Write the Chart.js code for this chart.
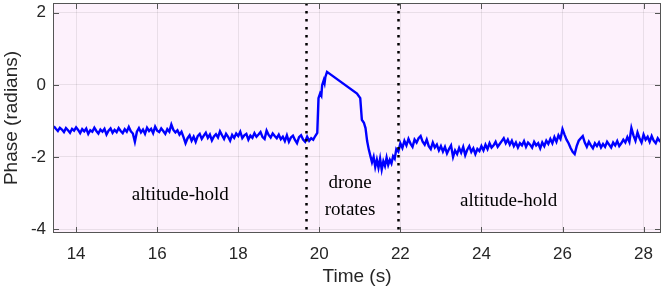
<!DOCTYPE html>
<html>
<head>
<meta charset="utf-8">
<script src="https://cdn.jsdelivr.net/npm/chart.js@4/dist/chart.umd.min.js"></script>
<style>
  html, body { margin: 0; padding: 0; background: #fff; }
  #wrap { width: 664px; height: 292px; }
</style>
</head>
<body>
<div id="wrap"><canvas id="myChart"></canvas></div>
<script>
// phase trace (seconds, radians)
var time = [
  13.45, 13.50, 13.55, 13.60, 13.65, 13.70, 13.75, 13.80, 13.85, 13.90,
  13.95, 14.00, 14.05, 14.10, 14.15, 14.20, 14.25, 14.30, 14.35, 14.40,
  14.45, 14.50, 14.55, 14.60, 14.65, 14.70, 14.75, 14.80, 14.85, 14.90,
  14.95, 15.00, 15.05, 15.10, 15.15, 15.20, 15.25, 15.30, 15.35, 15.40,
  15.45, 15.50, 15.55, 15.60, 15.65, 15.70, 15.75, 15.80, 15.85, 15.90,
  15.95, 16.00, 16.05, 16.10, 16.15, 16.20, 16.25, 16.30, 16.35, 16.40,
  16.45, 16.50, 16.55, 16.60, 16.65, 16.70, 16.75, 16.80, 16.85, 16.90,
  16.95, 17.00, 17.05, 17.10, 17.15, 17.20, 17.25, 17.30, 17.35, 17.40,
  17.45, 17.50, 17.55, 17.60, 17.65, 17.70, 17.75, 17.80, 17.85, 17.90,
  17.95, 18.00, 18.05, 18.10, 18.15, 18.20, 18.25, 18.30, 18.35, 18.40,
  18.45, 18.50, 18.55, 18.60, 18.65, 18.70, 18.75, 18.80, 18.85, 18.90,
  18.95, 19.00, 19.05, 19.10, 19.15, 19.20, 19.25, 19.30, 19.35, 19.40,
  19.45, 19.50, 19.55, 19.60, 19.65, 19.70, 19.75, 19.80, 19.85, 19.90,
  19.95, 19.98, 20.02, 20.05, 20.07, 20.11, 20.13, 20.15, 20.19, 20.93,
  21.01, 21.05, 21.10, 21.14, 21.18, 21.22, 21.26, 21.30, 21.34, 21.38,
  21.42, 21.46, 21.50, 21.54, 21.58, 21.62, 21.66, 21.70, 21.74, 21.78,
  21.82, 21.86, 21.90, 21.95,
  22.00, 22.05, 22.10, 22.15, 22.20, 22.25, 22.30, 22.35, 22.40, 22.45,
  22.50, 22.55, 22.60, 22.65, 22.70, 22.75, 22.80, 22.85, 22.90, 22.95,
  23.00, 23.05, 23.10, 23.15, 23.20, 23.25, 23.30, 23.35, 23.40, 23.45,
  23.50, 23.55, 23.60, 23.65, 23.70, 23.75, 23.80, 23.85, 23.90, 23.95,
  24.00, 24.05, 24.10, 24.15, 24.20, 24.25, 24.30, 24.35, 24.40, 24.45,
  24.50, 24.55, 24.60, 24.65, 24.70, 24.75, 24.80, 24.85, 24.90, 24.95,
  25.00, 25.05, 25.10, 25.15, 25.20, 25.25, 25.30, 25.35, 25.40, 25.45,
  25.50, 25.55, 25.60, 25.65, 25.70, 25.75, 25.80, 25.85, 25.90, 25.95,
  26.00, 26.05, 26.10, 26.15, 26.20, 26.25, 26.30, 26.35, 26.40, 26.45,
  26.50, 26.55, 26.60, 26.65, 26.70, 26.75, 26.80, 26.85, 26.90, 26.95,
  27.00, 27.05, 27.10, 27.15, 27.20, 27.25, 27.30, 27.35, 27.40, 27.45,
  27.50, 27.55, 27.60, 27.65, 27.70, 27.75, 27.80, 27.85, 27.90, 27.95,
  28.00, 28.05, 28.10, 28.15, 28.20, 28.25, 28.30, 28.35, 28.40, 28.45
];
var phase = [
  -1.15, -1.22, -1.28, -1.19, -1.24, -1.31, -1.20, -1.26, -1.33, -1.22,
  -1.27, -1.18, -1.25, -1.34, -1.23, -1.29, -1.21, -1.36, -1.26, -1.30,
  -1.19, -1.28, -1.35, -1.24, -1.30, -1.22, -1.38, -1.27, -1.21, -1.33,
  -1.25, -1.31, -1.20, -1.28, -1.34, -1.23, -1.30, -1.17, -1.29, -1.35,
  -1.58, -1.30, -1.20, -1.32, -1.24, -1.36, -1.19, -1.28, -1.22, -1.34,
  -1.16, -1.27, -1.31, -1.21, -1.28, -1.36, -1.23, -1.30, -1.10, -1.25,
  -1.32, -1.26, -1.38, -1.30, -1.45, -1.62, -1.48, -1.40, -1.55, -1.44,
  -1.58, -1.42, -1.36, -1.50, -1.41, -1.33, -1.47, -1.38, -1.54, -1.43,
  -1.37, -1.46, -1.29, -1.40, -1.50, -1.36, -1.44, -1.55, -1.39, -1.47,
  -1.35, -1.42, -1.30, -1.48, -1.40, -1.36, -1.52, -1.41, -1.47, -1.34,
  -1.44, -1.38, -1.31, -1.45, -1.50, -1.27, -1.39, -1.46, -1.35, -1.42,
  -1.48, -1.38, -1.51, -1.44, -1.56, -1.40, -1.58, -1.46, -1.41, -1.53,
  -1.62, -1.45, -1.40, -1.52, -1.58, -1.44, -1.55, -1.48, -1.52, -1.42,
  -1.33, -0.37, -0.24, -0.30, -0.01, 0.13, 0.05, 0.22, 0.36, -0.24,
  -0.37, -0.97, -1.05, -1.20, -1.56, -1.79, -1.97, -2.15, -2.00, -2.28,
  -2.08, -2.30, -2.05, -2.35, -2.12, -2.25, -2.02, -2.22, -2.08, -2.18,
  -1.98, -2.05, -1.78, -1.85,
  -1.62, -1.75, -1.55, -1.68, -1.50, -1.63, -1.72, -1.52, -1.60, -1.48,
  -1.42, -1.58, -1.66, -1.52, -1.70, -1.78, -1.60, -1.74, -1.66, -1.82,
  -1.70, -1.85, -1.72, -1.90, -1.78, -1.68, -2.00, -1.82, -1.92, -1.75,
  -1.88, -1.72, -1.95, -1.80, -1.70, -1.86, -1.76, -1.92, -1.78, -1.84,
  -1.70, -1.82, -1.66, -1.78, -1.62, -1.74, -1.68, -1.58, -1.72, -1.64,
  -1.56, -1.48, -1.62, -1.52, -1.66, -1.55, -1.70, -1.60, -1.74, -1.62,
  -1.68, -1.56, -1.72, -1.60, -1.66, -1.74, -1.58, -1.68, -1.62, -1.76,
  -1.60, -1.70, -1.55, -1.64, -1.50, -1.62, -1.45, -1.58, -1.40, -1.50,
  -1.23, -1.38, -1.52, -1.62, -1.75, -1.86, -1.92, -1.70, -1.55, -1.48,
  -1.42, -1.60, -1.72, -1.58, -1.68, -1.76, -1.62, -1.70, -1.60, -1.74,
  -1.64, -1.72, -1.58, -1.66, -1.74, -1.60, -1.68, -1.56, -1.70, -1.62,
  -1.52, -1.60, -1.45, -1.58, -1.20, -1.40, -1.55, -1.32, -1.48, -1.60,
  -1.38, -1.52, -1.44, -1.58, -1.42, -1.55, -1.62, -1.48, -1.56, -1.60
];
var eventTimes = [19.66, 21.95];
var xTicks = [14, 16, 18, 20, 22, 24, 26, 28];
var yTicks = [-4, -2, 0, 2];
var noteText = [['altitude-hold'], ['drone', 'rotates'], ['altitude-hold']];
var noteX = [16.57, 20.76, 24.67];
var noteY = [-3.07, -3.11, -3.23];

var points = time.map(function(t, i) { return { x: t, y: phase[i] }; });

var boxPlugin = {
  id: 'matlabBox',
  beforeDraw: function(chart) {
    var a = chart.chartArea, c = chart.ctx;
    c.save();
    c.fillStyle = '#fdf1fc';
    c.fillRect(a.left, a.top, a.right - a.left, a.bottom - a.top);
    c.restore();
  },
  afterDraw: function(chart) {
    var a = chart.chartArea, c = chart.ctx;
    var xs = chart.scales.x, ys = chart.scales.y;
    c.save();
    // dotted event lines
    c.strokeStyle = '#000';
    c.lineWidth = 2.5;
    c.setLineDash([2.5, 5.5]);
    eventTimes.forEach(function(t) {
      var px = Math.round(xs.getPixelForValue(t)) + 0.5;
      c.beginPath();
      c.moveTo(px, a.top);
      c.lineTo(px, a.bottom);
      c.stroke();
    });
    c.setLineDash([]);
    // box and inward ticks
    c.strokeStyle = '#555';
    c.lineWidth = 1;
    c.strokeRect(a.left + 0.5, a.top + 0.5, a.right - a.left - 1, a.bottom - a.top - 1);
    xTicks.forEach(function(v) {
      var px = Math.round(xs.getPixelForValue(v)) + 0.5;
      c.beginPath();
      c.moveTo(px, a.bottom); c.lineTo(px, a.bottom - 6);
      c.moveTo(px, a.top); c.lineTo(px, a.top + 6);
      c.stroke();
    });
    yTicks.forEach(function(v) {
      var py = Math.round(ys.getPixelForValue(v)) + 0.5;
      c.beginPath();
      c.moveTo(a.left, py); c.lineTo(a.left + 6, py);
      c.moveTo(a.right, py); c.lineTo(a.right - 6, py);
      c.stroke();
    });
    // annotations
    c.fillStyle = '#000';
    c.font = '19px "Liberation Serif", "Times New Roman", serif';
    c.textAlign = 'center';
    c.textBaseline = 'middle';
    noteText.forEach(function(lines, i) {
      var px = xs.getPixelForValue(noteX[i]);
      var py = ys.getPixelForValue(noteY[i]);
      var h = 27;
      lines.forEach(function(s, j) {
        c.fillText(s, px, py + (j - (lines.length - 1) / 2) * h);
      });
    });
    c.restore();
  }
};

var ctx = document.getElementById('myChart').getContext('2d');
var chart = new Chart(ctx, {
  type: 'line',
  data: {
    datasets: [{
      data: points,
      borderColor: '#0000ff',
      borderWidth: 2.4,
      pointRadius: 0,
      tension: 0,
      fill: false
    }]
  },
  options: {
    responsive: true,
    maintainAspectRatio: false,
    animation: false,
    events: [],
    layout: { autoPadding: false, padding: { top: 3, right: 3, left: 0, bottom: 0 } },
    plugins: { legend: { display: false }, tooltip: { enabled: false } },
    scales: {
      x: {
        type: 'linear',
        min: 13.43,
        max: 28.43,
        afterBuildTicks: function(s) { s.ticks = xTicks.map(function(v) { return { value: v }; }); },
        afterFit: function(s) { s.height = 59; s.paddingLeft = 0; s.paddingRight = 0; },
        grid: { color: 'rgba(0,0,0,0.08)', drawTicks: false },
        border: { display: false },
        ticks: { padding: 11, color: '#262626', font: { family: '"Liberation Sans", Arial, sans-serif', size: 17 }, maxRotation: 0 },
        title: { display: true, text: 'Time (s)', color: '#262626', padding: { top: 0, bottom: 4 },
                 font: { family: '"Liberation Sans", Arial, sans-serif', size: 19 } }
      },
      y: {
        min: -4.11,
        max: 2.27,
        afterBuildTicks: function(s) { s.ticks = yTicks.map(function(v) { return { value: v }; }); },
        afterFit: function(s) { s.width = 53; s.paddingTop = 0; s.paddingBottom = 0; },
        grid: { color: 'rgba(0,0,0,0.08)', drawTicks: false },
        border: { display: false },
        ticks: { padding: 7, color: '#262626', font: { family: '"Liberation Sans", Arial, sans-serif', size: 17 } },
        title: { display: true, text: 'Phase (radians)', color: '#262626', padding: { top: 0, bottom: 0 },
                 font: { family: '"Liberation Sans", Arial, sans-serif', size: 19 } }
      }
    }
  },
  plugins: [boxPlugin]
});
</script>
</body>
</html>
